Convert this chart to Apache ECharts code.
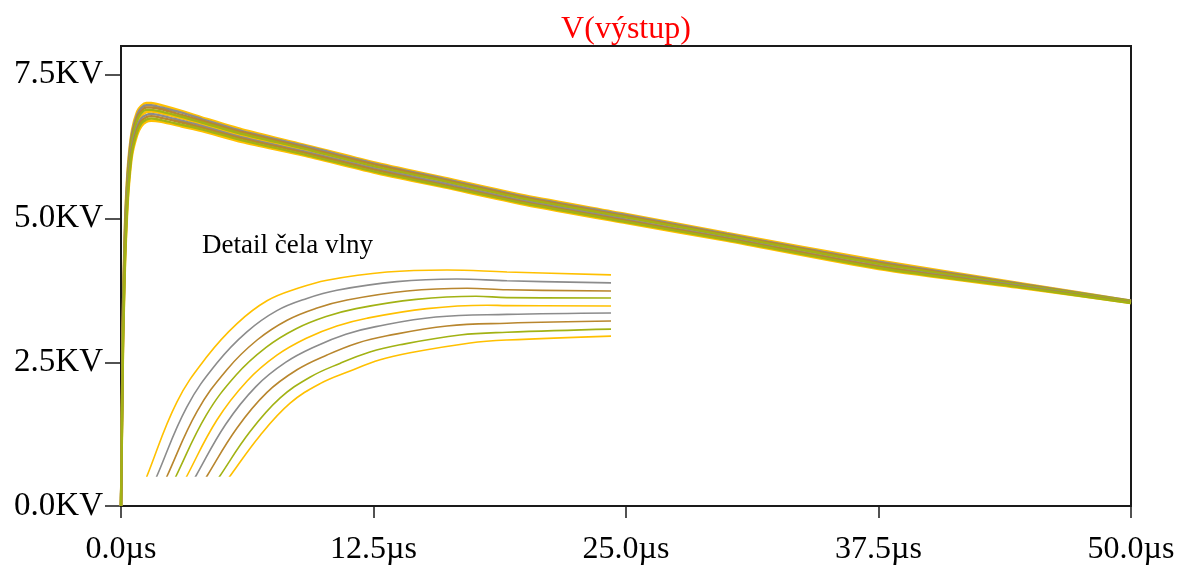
<!DOCTYPE html>
<html>
<head>
<meta charset="utf-8">
<title>V(výstup)</title>
<script src="https://cdn.jsdelivr.net/npm/echarts@6/dist/echarts.min.js"></script>
<style>
  html, body { margin: 0; padding: 0; background: #ffffff; }
  #chart { width: 1189px; height: 566px; }
</style>
</head>
<body>
<div id="chart"></div>
<script>
// Sample times of the simulated impulse (µs)
const timeUs = [0, 0.05, 0.1, 0.2, 0.3, 0.4, 0.55, 0.8, 1.0, 1.25, 1.5, 2, 3, 4, 6, 9, 12.5, 16, 20, 25, 30, 37.5, 45, 50];

// Output voltage of each parameter step (KV)
const wave1 = [0, 1.90, 3.50, 4.95, 5.70, 6.15, 6.55, 6.86, 6.96, 7.01, 7.01, 6.97, 6.87, 6.76, 6.55, 6.29, 5.98, 5.71, 5.40, 5.08, 4.75, 4.27, 3.85, 3.57];
const wave2 = [0, 1.83, 3.40, 4.86, 5.62, 6.08, 6.49, 6.81, 6.92, 6.97, 6.97, 6.93, 6.84, 6.73, 6.52, 6.27, 5.96, 5.69, 5.38, 5.06, 4.73, 4.25, 3.84, 3.57];
const wave3 = [0, 1.75, 3.30, 4.76, 5.54, 6.01, 6.44, 6.76, 6.87, 6.93, 6.93, 6.90, 6.80, 6.70, 6.50, 6.24, 5.94, 5.67, 5.36, 5.04, 4.72, 4.23, 3.83, 3.56];
const wave4 = [0, 1.68, 3.20, 4.67, 5.46, 5.94, 6.38, 6.71, 6.83, 6.89, 6.89, 6.86, 6.77, 6.67, 6.47, 6.22, 5.91, 5.65, 5.34, 5.02, 4.70, 4.21, 3.82, 3.56];
const wave5 = [0, 1.60, 3.10, 4.57, 5.38, 5.87, 6.33, 6.66, 6.78, 6.85, 6.86, 6.83, 6.74, 6.64, 6.44, 6.19, 5.89, 5.63, 5.32, 5.00, 4.68, 4.19, 3.81, 3.55];
const wave6 = [0, 1.53, 3.00, 4.48, 5.30, 5.81, 6.27, 6.60, 6.74, 6.80, 6.82, 6.79, 6.70, 6.61, 6.41, 6.17, 5.87, 5.61, 5.30, 4.98, 4.66, 4.17, 3.80, 3.54];
const wave7 = [0, 1.45, 2.90, 4.39, 5.21, 5.74, 6.21, 6.55, 6.69, 6.76, 6.78, 6.75, 6.67, 6.58, 6.39, 6.15, 5.85, 5.58, 5.28, 4.96, 4.65, 4.16, 3.79, 3.54];
const wave8 = [0, 1.38, 2.80, 4.29, 5.13, 5.67, 6.16, 6.50, 6.65, 6.72, 6.74, 6.71, 6.63, 6.55, 6.36, 6.12, 5.82, 5.56, 5.26, 4.94, 4.63, 4.14, 3.78, 3.53];
const wave9 = [0, 1.30, 2.70, 4.20, 5.05, 5.60, 6.10, 6.45, 6.60, 6.68, 6.70, 6.68, 6.60, 6.52, 6.33, 6.10, 5.80, 5.54, 5.24, 4.92, 4.61, 4.12, 3.77, 3.53];

// Wave-front detail: [time µs, voltage KV] around the crest
const front1 = [[-0.06, 5.77], [0, 6.0], [0.1, 6.371], [0.2, 6.597], [0.3, 6.762], [0.4, 6.876], [0.5, 6.937], [0.6, 6.979], [0.8, 7.020], [1.0, 7.030], [1.2, 7.020], [1.56, 7.005]];
const front2 = [[-0.027, 5.785], [0.033, 6.0], [0.133, 6.346], [0.233, 6.565], [0.333, 6.721], [0.433, 6.827], [0.533, 6.888], [0.633, 6.929], [0.833, 6.972], [1.033, 6.985], [1.2, 6.976], [1.56, 6.965]];
const front3 = [[0.007, 5.798], [0.067, 6.0], [0.167, 6.323], [0.267, 6.533], [0.367, 6.680], [0.467, 6.779], [0.567, 6.840], [0.667, 6.880], [0.867, 6.925], [1.067, 6.939], [1.2, 6.931], [1.56, 6.925]];
const front4 = [[0.037, 5.81], [0.097, 6.0], [0.197, 6.303], [0.297, 6.505], [0.397, 6.643], [0.497, 6.736], [0.597, 6.797], [0.697, 6.837], [0.897, 6.883], [1.097, 6.899], [1.2, 6.892], [1.56, 6.890]];
const front5 = [[0.073, 5.823], [0.133, 6.0], [0.233, 6.280], [0.333, 6.474], [0.433, 6.604], [0.533, 6.690], [0.633, 6.750], [0.733, 6.789], [0.933, 6.837], [1.133, 6.854], [1.2, 6.852], [1.56, 6.850]];
const front6 = [[0.103, 5.836], [0.163, 6.0], [0.263, 6.260], [0.363, 6.447], [0.463, 6.569], [0.563, 6.649], [0.663, 6.709], [0.763, 6.747], [0.963, 6.795], [1.2, 6.808], [1.56, 6.815]];
const front7 = [[0.14, 5.849], [0.2, 6.0], [0.3, 6.240], [0.4, 6.418], [0.5, 6.531], [0.6, 6.605], [0.7, 6.664], [0.8, 6.701], [1.0, 6.750], [1.2, 6.764], [1.56, 6.775]];
const front8 = [[0.183, 5.861], [0.243, 6.0], [0.343, 6.221], [0.443, 6.389], [0.543, 6.494], [0.643, 6.563], [0.743, 6.620], [0.843, 6.656], [1.043, 6.705], [1.2, 6.719], [1.56, 6.735]];
const front9 = [[0.217, 5.874], [0.277, 6.0], [0.377, 6.203], [0.477, 6.364], [0.577, 6.462], [0.677, 6.525], [0.777, 6.581], [0.877, 6.616], [1.077, 6.665], [1.2, 6.680], [1.56, 6.700]];

// Axis ticks
const xTicks = [0, 12.5, 25, 37.5, 50];
const yTicks = [0, 2.5, 5, 7.5];

const waves = [wave1, wave2, wave3, wave4, wave5, wave6, wave7, wave8, wave9];
const fronts = [front1, front2, front3, front4, front5, front6, front7, front8, front9];
const stepColors = ['#FFC000', '#8C8C8C', '#B8862E', '#A2B214', '#FFC000', '#8C8C8C', '#B8862E', '#A2B214', '#FFC000'];

const serif = "'Liberation Serif', 'DejaVu Serif', serif";

const series = [];
waves.forEach((w, k) => {
  series.push({
    type: 'line',
    xAxisIndex: 0,
    yAxisIndex: 0,
    data: timeUs.map((t, i) => [t, w[i]]),
    showSymbol: false,
    smooth: 0.25,
    lineStyle: { color: stepColors[k], width: 2.4 },
    z: 3 + (k % 4 === 0 ? 0 : 1),
    silent: true
  });
});
fronts.forEach((f, k) => {
  series.push({
    type: 'line',
    xAxisIndex: 1,
    yAxisIndex: 1,
    data: f,
    showSymbol: false,
    smooth: 0.4,
    clip: true,
    lineStyle: { color: stepColors[k], width: 1.6 },
    z: 3,
    silent: true
  });
});

const chart = echarts.init(document.getElementById('chart'), null, { renderer: 'canvas' });
chart.setOption({
  animation: false,
  backgroundColor: '#ffffff',
  graphic: [
    {
      type: 'text',
      x: 626, y: 30,
      style: {
        text: 'V(výstup)',
        fill: '#FF0000',
        font: "32px " + serif,
        textAlign: 'center',
        textVerticalAlign: 'middle'
      }
    },
    {
      type: 'text',
      x: 202, y: 246,
      style: {
        text: 'Detail čela vlny',
        fill: '#000000',
        font: "27px " + serif,
        textAlign: 'left',
        textVerticalAlign: 'middle'
      }
    }
  ],
  grid: [
    { left: 121, right: 58, top: 46, bottom: 60, show: true, borderColor: '#1a1a1a', borderWidth: 2, backgroundColor: 'transparent' },
    { left: 147, top: 266, width: 462, height: 210, show: false }
  ],
  xAxis: [
    {
      type: 'value', gridIndex: 0, min: 0, max: 50, interval: 12.5,
      axisLine: { show: false },
      splitLine: { show: false },
      axisTick: { show: true, inside: false, length: 12, lineStyle: { color: '#1a1a1a', width: 1.5 }, customValues: xTicks },
      axisLabel: {
        customValues: xTicks,
        formatter: v => v.toFixed(1) + 'µs',
        color: '#000', fontFamily: serif, fontSize: 32, margin: 28
      }
    },
    { type: 'value', gridIndex: 1, min: 0, max: 1.54, show: false }
  ],
  yAxis: [
    {
      type: 'value', gridIndex: 0, min: 0, max: 8, interval: 2.5,
      axisLine: { show: false },
      splitLine: { show: false },
      axisTick: { show: true, inside: false, length: 16, lineStyle: { color: '#1a1a1a', width: 1.5 }, customValues: yTicks },
      axisLabel: {
        customValues: yTicks,
        formatter: v => v.toFixed(1) + 'KV',
        color: '#000', fontFamily: serif, fontSize: 33, margin: 18
      }
    },
    { type: 'value', gridIndex: 1, min: 6.0, max: 7.05, show: false }
  ],
  series: series
});
</script>
</body>
</html>
